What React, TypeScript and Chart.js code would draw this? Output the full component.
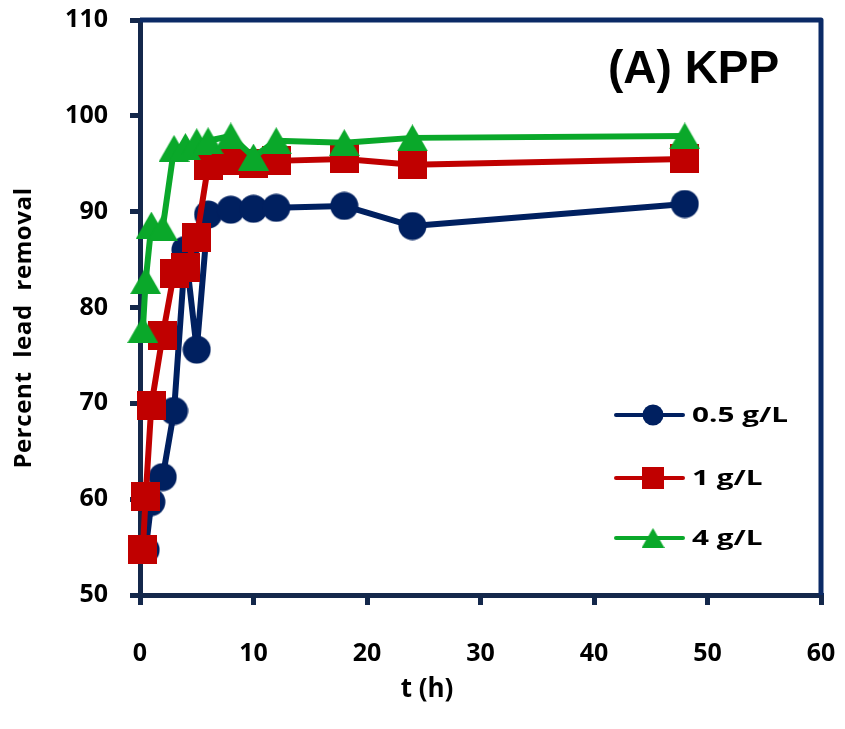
import React, { useEffect, useRef } from 'react';
import { Chart, registerables } from 'chart.js';

Chart.register(...registerables);

// ---- data ----
const times = [0.25, 0.5, 1, 2, 3, 4, 5, 6, 8, 10, 12, 18, 24, 48];
const series05 = [null, 54.7, 59.7, 62.3, 69.2, 86.0, 75.6, 89.7, 90.2, 90.3, 90.4, 90.6, 88.5, 90.8];
const series1 = [54.7, 60.3, 69.8, 77.1, 83.6, 84.2, 87.3, 94.8, 95.3, 95.0, 95.3, 95.5, 94.9, 95.5];
const series4 = [77.7, 82.8, 88.6, 88.3, 96.6, 96.8, 97.3, 97.4, 97.9, 95.7, 97.4, 97.2, 97.7, 97.9];
const seriesLabels = ['0.5 g/L', '1 g/L', '4 g/L'];
const chartTitle = '(A) KPP';
const xTitle = 't (h)';
const yTitle = 'Percent  lead  removal';
const xRange = [0, 60];
const yRange = [50, 110];
const tickStep = 10;

// ---- styles ----
const BLUE = '#002060';
const RED = '#C00000';
const GREEN = '#0AA82A';
const AXIS = '#14284B';
const FRAME = '#0B2A66';
const FONT = '"Open Sans"';

type Kind = 'circle' | 'square' | 'triangle';

function makeMarker(kind: Kind, size: number, color: string): HTMLCanvasElement {
  const c = document.createElement('canvas');
  const h = kind === 'triangle' ? Math.round(size * 0.88) : size;
  c.width = size;
  c.height = h;
  const ctx = c.getContext('2d')!;
  ctx.fillStyle = color;
  ctx.beginPath();
  if (kind === 'circle') {
    ctx.arc(size / 2, size / 2, size / 2 - 0.5, 0, Math.PI * 2);
  } else if (kind === 'square') {
    ctx.rect(0, 0, size, size);
  } else {
    ctx.moveTo(size / 2, 0);
    ctx.lineTo(size, h);
    ctx.lineTo(0, h);
    ctx.closePath();
  }
  ctx.fill();
  return c;
}

function toPoints(values: (number | null)[]) {
  const pts: { x: number; y: number }[] = [];
  values.forEach((v, i) => {
    if (v !== null) pts.push({ x: times[i], y: v });
  });
  return pts;
}

export default function App() {
  const ref = useRef<HTMLCanvasElement | null>(null);

  useEffect(() => {
    if (!ref.current) return;
    const kinds: Kind[] = ['circle', 'square', 'triangle'];
    const colors = [BLUE, RED, GREEN];
    const bigSizes = [29, 29, 31];
    const smallSizes = [22, 22, 23];
    const big = kinds.map((k, i) => makeMarker(k, bigSizes[i], colors[i]));
    const small = kinds.map((k, i) => makeMarker(k, smallSizes[i], colors[i]));
    const allValues = [series05, series1, series4];

    const overlay = {
      id: 'overlay',
      beforeDatasetsDraw(chart: any) {
        const { ctx, chartArea: a } = chart;
        ctx.save();
        ctx.strokeStyle = FRAME;
        ctx.lineWidth = 5;
        ctx.lineJoin = 'round';
        ctx.beginPath();
        ctx.moveTo(a.left, a.top);
        ctx.lineTo(a.right, a.top);
        ctx.lineTo(a.right, a.bottom);
        ctx.stroke();
        ctx.restore();
      },
      afterDraw(chart: any) {
        const { ctx, chartArea: a } = chart;
        ctx.save();
        ctx.fillStyle = '#000';
        // chart title
        ctx.font = 'bold 46px "Liberation Sans"';
        ctx.textBaseline = 'alphabetic';
        ctx.textAlign = 'left';
        ctx.fillText(chartTitle, a.left + 468, a.top + 63);
        // x axis title
        ctx.font = `bold 26px ${FONT}`;
        ctx.textAlign = 'center';
        ctx.fillText(xTitle, a.left + 287, a.bottom + 102);
        // y axis title
        ctx.save();
        ctx.translate(a.left - 109, a.top + 308);
        ctx.rotate(-Math.PI / 2);
        ctx.font = `bold 24px ${FONT}`;
        (ctx as any).letterSpacing = '0.6px';
        ctx.textAlign = 'center';
        ctx.fillText(yTitle, 0, 0);
        ctx.restore();
        // legend
        const rows = [395, 458, 518];
        seriesLabels.forEach((label, i) => {
          const y = a.top + rows[i];
          ctx.strokeStyle = colors[i];
          ctx.lineWidth = 4;
          ctx.lineCap = 'round';
          ctx.beginPath();
          ctx.moveTo(a.left + 476, y);
          ctx.lineTo(a.left + 543, y);
          ctx.stroke();
          const m = small[i];
          ctx.drawImage(m, a.left + 513 - m.width / 2, y - m.height / 2);
          ctx.save();
          ctx.translate(a.left + 552, y);
          ctx.scale(1.35, 1);
          ctx.fillStyle = '#000';
          ctx.font = `bold 22px ${FONT}`;
          ctx.textAlign = 'left';
          ctx.textBaseline = 'middle';
          ctx.fillText(label, 0, 1);
          ctx.restore();
        });
        ctx.restore();
      },
    };

    const datasets = allValues.map((vals, i) => ({
      label: seriesLabels[i],
      data: toPoints(vals),
      borderColor: colors[i],
      backgroundColor: colors[i],
      borderWidth: 6,
      borderJoinStyle: 'round' as const,
      borderCapStyle: 'round' as const,
      tension: 0,
      pointStyle: big[i],
      pointRadius: 14,
      pointBorderWidth: 0,
      clip: false as const,
      order: 3 - i,
    }));

    const tickFont = { family: FONT, size: 25, weight: 'bold' as const };

    const chart = new Chart(ref.current, {
      type: 'line',
      data: { datasets },
      plugins: [overlay],
      options: {
        animation: false,
        responsive: false,
        events: [],
        layout: { padding: { top: 20, right: 24, left: 0, bottom: 0 } },
        plugins: { legend: { display: false }, tooltip: { enabled: false } },
        scales: {
          x: {
            type: 'linear',
            min: xRange[0],
            max: xRange[1],
            ticks: { stepSize: tickStep, color: '#000', font: tickFont, padding: 34 },
            grid: { drawOnChartArea: false, drawTicks: true, tickLength: 10, color: AXIS, lineWidth: 5 },
            border: { display: true, color: AXIS, width: 5 },
            title: { display: false },
            afterFit: (s: any) => {
              s.height = 134;
              s.paddingLeft = 0;
              s.paddingRight = 0;
            },
          },
          y: {
            type: 'linear',
            min: yRange[0],
            max: yRange[1],
            ticks: { stepSize: tickStep, color: '#000', font: tickFont, padding: 22 },
            grid: { drawOnChartArea: false, drawTicks: true, tickLength: 10, color: AXIS, lineWidth: 5 },
            border: { display: true, color: AXIS, width: 5 },
            title: { display: false },
            afterFit: (s: any) => {
              s.width = 140;
              s.paddingTop = 0;
              s.paddingBottom = 0;
            },
          },
        },
      },
    } as any);

    return () => chart.destroy();
  }, []);

  return (
    <div style={{ position: 'absolute', left: 0, top: 0, width: 845, height: 729, background: '#fff' }}>
      <canvas ref={ref} width={845} height={729} style={{ display: 'block' }} />
    </div>
  );
}
